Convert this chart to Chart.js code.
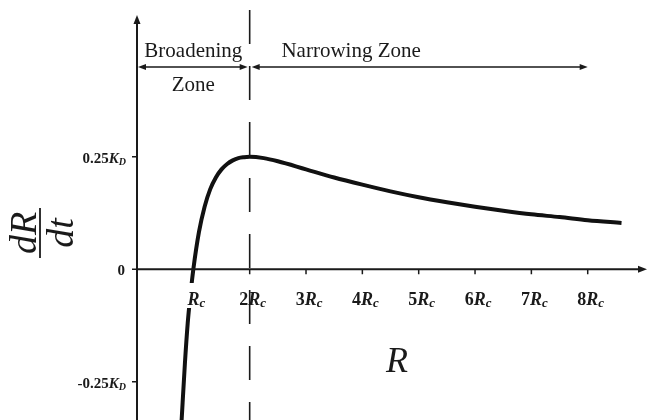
<!DOCTYPE html>
<html>
<head>
<meta charset="utf-8">
<script src="https://cdn.jsdelivr.net/npm/chart.js@4"></script>
<style>
  html, body { margin: 0; padding: 0; background: #fff; }
  #wrap { width: 648px; height: 420px; position: relative; }
</style>
</head>
<body>
<div id="wrap"><canvas id="chart"></canvas></div>
<script>
// R in units of Rc, dR/dt in units of K_D
var rValues = [0.79, 0.85, 0.9, 0.95, 1.0, 1.1, 1.2, 1.3, 1.4, 1.5, 1.6, 1.7, 1.8, 1.9, 2.0, 2.25, 2.5, 3.0, 3.5, 4.0, 4.5, 5.0, 5.5, 6.0, 6.5, 7.0, 7.5, 8.0, 8.6];
var rateValues = [-0.34, -0.21, -0.12, -0.055, 0, 0.083, 0.139, 0.178, 0.204, 0.222, 0.234, 0.242, 0.247, 0.249, 0.25, 0.247, 0.24, 0.222, 0.204, 0.188, 0.173, 0.16, 0.149, 0.139, 0.13, 0.122, 0.116, 0.109, 0.103];
var xTicks = [1, 2, 3, 4, 5, 6, 7, 8];
var xTickPrefix = ["", "2", "3", "4", "5", "6", "7", "8"];
var yTicks = [0.25, 0, -0.25];
var yTickLabels = ["0.25", "0", "-0.25"];
var criticalR = 2;

var serif = "'Liberation Serif', 'DejaVu Serif', serif";
var ink = "#1a1a1a";

var points = rValues.map(function (r, i) {
    return { x: r, y: rateValues[i] };
});

function runsWidth(ctx, runs) {
    var w = 0;
    runs.forEach(function (r) {
        ctx.font = r.font;
        w += ctx.measureText(r.t).width;
    });
    return w;
}

function drawRuns(ctx, runs, x, y, align) {
    var w = runsWidth(ctx, runs);
    var cx = align === "right" ? x - w : align === "center" ? x - w / 2 : x;
    runs.forEach(function (r) {
        ctx.font = r.font;
        ctx.fillText(r.t, cx, y + (r.dy || 0));
        cx += ctx.measureText(r.t).width;
    });
}

function arrowHead(ctx, x, y, dx, dy, len, half) {
    // tip at (x, y), pointing along (dx, dy)
    ctx.beginPath();
    ctx.moveTo(x, y);
    ctx.lineTo(x - dx * len - dy * half, y - dy * len + dx * half);
    ctx.lineTo(x - dx * len + dy * half, y - dy * len - dx * half);
    ctx.closePath();
    ctx.fill();
}

var annotate = {
    id: "annotate",
    afterDatasetsDraw: function (chart) {
        var ctx = chart.ctx;
        var xs = chart.scales.x;
        var ys = chart.scales.y;
        var x0 = xs.getPixelForValue(0);
        var y0 = ys.getPixelForValue(0);
        var xc = xs.getPixelForValue(criticalR);
        var W = chart.width, H = chart.height;

        ctx.save();
        ctx.strokeStyle = ink;
        ctx.fillStyle = ink;

        // axes
        ctx.lineWidth = 2;
        ctx.beginPath();
        ctx.moveTo(x0, H);
        ctx.lineTo(x0, ys.top + 6);
        ctx.moveTo(x0, y0);
        ctx.lineTo(W - 6, y0);
        ctx.stroke();
        arrowHead(ctx, x0, ys.top, 0, -1, 9, 3.5);
        arrowHead(ctx, W - 1, y0, 1, 0, 9, 3.5);

        // ticks
        ctx.lineWidth = 1.5;
        ctx.beginPath();
        xTicks.forEach(function (v) {
            var px = xs.getPixelForValue(v);
            ctx.moveTo(px, y0);
            ctx.lineTo(px, y0 + 5);
        });
        yTicks.forEach(function (v) {
            var py = ys.getPixelForValue(v);
            ctx.moveTo(x0, py);
            ctx.lineTo(x0 - 5, py);
        });
        ctx.stroke();

        // dashed line at R = 2Rc
        ctx.lineWidth = 1.6;
        ctx.setLineDash([34, 22]);
        ctx.beginPath();
        ctx.moveTo(xc, 10);
        ctx.lineTo(xc, H);
        ctx.stroke();
        ctx.setLineDash([]);

        // zone arrows
        var za = 67;
        var x8 = xs.getPixelForValue(8);
        ctx.lineWidth = 1.3;
        ctx.beginPath();
        ctx.moveTo(x0 + 4, za);
        ctx.lineTo(xc - 5, za);
        ctx.moveTo(xc + 5, za);
        ctx.lineTo(x8 - 5, za);
        ctx.stroke();
        arrowHead(ctx, x0 + 1, za, -1, 0, 8, 3);
        arrowHead(ctx, xc - 2, za, 1, 0, 8, 3);
        arrowHead(ctx, xc + 2, za, -1, 0, 8, 3);
        arrowHead(ctx, x8, za, 1, 0, 8, 3);

        // zone texts
        ctx.textBaseline = "alphabetic";
        ctx.textAlign = "center";
        ctx.font = "21px " + serif;
        ctx.fillText("Broadening", (x0 + xc) / 2, 57);
        ctx.fillText("Zone", (x0 + xc) / 2, 91);
        ctx.fillText("Narrowing Zone", xs.getPixelForValue(3.8), 57);
        ctx.textAlign = "left";

        // x tick labels
        var big = "bold 18px " + serif;
        var bigIt = "italic bold 18px " + serif;
        var sub = "italic bold 13px " + serif;
        xTicks.forEach(function (v, i) {
            var runs = [];
            if (xTickPrefix[i]) runs.push({ t: xTickPrefix[i], font: big });
            runs.push({ t: "R", font: bigIt });
            runs.push({ t: "c", font: sub, dy: 2 });
            var cx = xs.getPixelForValue(v) + 3;
            if (i === 0) {
                // label sits on the curve: clear a box behind it
                var w = runsWidth(ctx, runs);
                ctx.fillStyle = "#fff";
                ctx.fillRect(cx - w / 2 - 3, 283, w + 6, 25);
                ctx.fillStyle = ink;
            }
            drawRuns(ctx, runs, cx, 305, "center");
        });

        // y tick labels
        var yb = "bold 15px " + serif;
        var ybIt = "italic bold 15px " + serif;
        var ysub = "italic bold 10px " + serif;
        yTicks.forEach(function (v, i) {
            var runs = [{ t: yTickLabels[i], font: yb }];
            if (v !== 0) {
                runs.push({ t: "K", font: ybIt });
                runs.push({ t: "D", font: ysub, dy: 2 });
            }
            drawRuns(ctx, runs, v === 0 ? x0 - 12 : x0 - 11, ys.getPixelForValue(v) + 6, "right");
        });

        // axis titles
        ctx.font = "italic 36px " + serif;
        ctx.textAlign = "center";
        ctx.fillText("R", 397, 372);

        ctx.translate(40, 233);
        ctx.rotate(-Math.PI / 2);
        ctx.font = "italic 38px " + serif;
        ctx.fillText("dR", 0, -4);
        ctx.fillText("dt", 0, 33);
        ctx.lineWidth = 1.8;
        ctx.beginPath();
        ctx.moveTo(-25, 0);
        ctx.lineTo(25, 0);
        ctx.stroke();

        ctx.restore();
    }
};

new Chart(document.getElementById("chart"), {
    type: "scatter",
    data: {
        datasets: [{
            data: points,
            showLine: true,
            borderColor: "#111",
            borderWidth: 4,
            pointRadius: 0,
            cubicInterpolationMode: "monotone",
            clip: false
        }]
    },
    options: {
        responsive: true,
        maintainAspectRatio: false,
        animation: false,
        layout: { padding: { left: 137, right: 0, top: 15, bottom: 0 } },
        plugins: { legend: { display: false }, tooltip: { enabled: false } },
        scales: {
            x: { type: "linear", min: 0, max: 9.07, display: false },
            y: { min: -0.335, max: 0.565, display: false }
        }
    },
    plugins: [annotate]
});
</script>
</body>
</html>
